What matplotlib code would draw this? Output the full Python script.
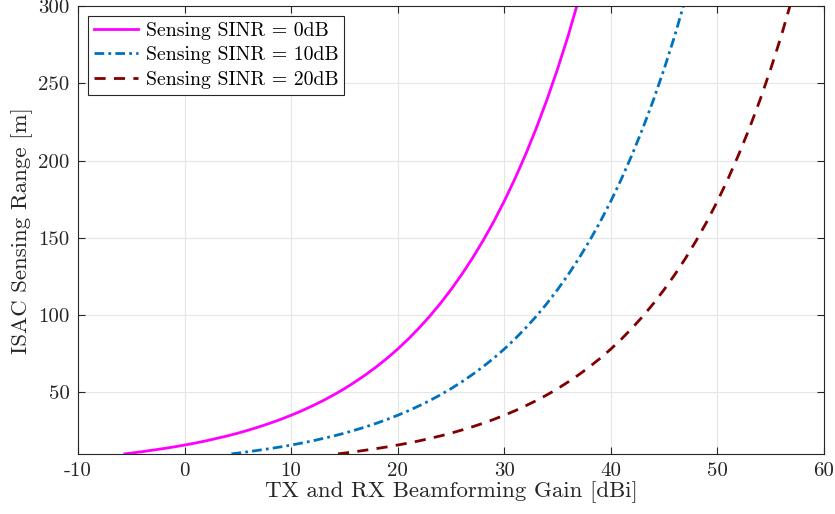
import numpy as np
import matplotlib
matplotlib.use('Agg')
import matplotlib.pyplot as plt

# values (all three curves share the same range values)
sensing_range = [10.0, 10.5, 11.4, 12.4, 13.4, 14.5, 15.7, 17.0, 18.4, 20.0, 21.6, 23.4,
                 25.4, 27.5, 29.8, 32.3, 35.0, 37.9, 41.1, 44.5, 48.2, 52.2, 56.6, 61.3,
                 66.4, 71.9, 77.9, 84.4, 91.5, 99.1, 107.4, 116.4, 126.1, 136.6, 148.0,
                 160.3, 173.7, 188.2, 203.9, 220.9, 239.3, 259.3, 280.9, 300.0]
gain_0db = [-5.6, -5, -4, -3, -2, -1, 0, 1, 2, 3, 4, 5,
            6, 7, 8, 9, 10, 11, 12, 13, 14, 15, 16, 17,
            18, 19, 20, 21, 22, 23, 24, 25, 26, 27, 28,
            29, 30, 31, 32, 33, 34, 35, 36, 36.8]
gain_10db = [4.4, 5, 6, 7, 8, 9, 10, 11, 12, 13, 14, 15,
             16, 17, 18, 19, 20, 21, 22, 23, 24, 25, 26, 27,
             28, 29, 30, 31, 32, 33, 34, 35, 36, 37, 38,
             39, 40, 41, 42, 43, 44, 45, 46, 46.8]
gain_20db = [14.4, 15, 16, 17, 18, 19, 20, 21, 22, 23, 24, 25,
             26, 27, 28, 29, 30, 31, 32, 33, 34, 35, 36, 37,
             38, 39, 40, 41, 42, 43, 44, 45, 46, 47, 48,
             49, 50, 51, 52, 53, 54, 55, 56, 56.8]
labels = ['Sensing SINR = 0dB', 'Sensing SINR = 10dB', 'Sensing SINR = 20dB']

plt.rcParams['font.family'] = 'cmr10'
plt.rcParams['mathtext.fontset'] = 'cm'
plt.rcParams['axes.unicode_minus'] = False
plt.rcParams['axes.formatter.use_mathtext'] = False

fig = plt.figure(figsize=(8.35, 5.14), dpi=100)
ax = fig.add_axes([0.0934, 0.117, 0.8934, 0.871])

ax.plot(gain_0db, sensing_range, color='#FF00FF', lw=2, label=labels[0])
ax.plot(gain_10db, sensing_range, color='#0072BD', lw=2, ls=(0, (3.5, 1.5, 1, 1.5)), label=labels[1])
ax.plot(gain_20db, sensing_range, color='#800000', lw=2, ls=(0, (4, 3)), label=labels[2])

ax.set_xlim(-10, 60)
ax.set_ylim(10, 300)
ax.set_xticks(np.arange(-10, 61, 10))
ax.set_yticks(np.arange(50, 301, 50))
ax.tick_params(direction='in', top=True, right=True, labelsize=15, length=5,
               color='#262626', labelcolor='#262626', pad=6)
ax.grid(True, color='#e6e6e6', lw=0.8)
for s in ax.spines.values():
    s.set_color('#262626')
    s.set_linewidth(0.8)

ax.set_xlabel('TX and RX Beamforming Gain [dBi]', fontsize=16.5, labelpad=1, color='#262626')
ax.set_ylabel('ISAC Sensing Range [m]', fontsize=16.5, labelpad=4, color='#262626')

leg = ax.legend(loc='upper left', fontsize=14.3, fancybox=False, edgecolor='#262626',
                framealpha=1, handlelength=2.2, borderpad=0.3, labelspacing=0.32,
                handletextpad=0.4, borderaxespad=0.5)
leg.get_frame().set_linewidth(0.8)

fig.savefig('out.png', dpi=100)
